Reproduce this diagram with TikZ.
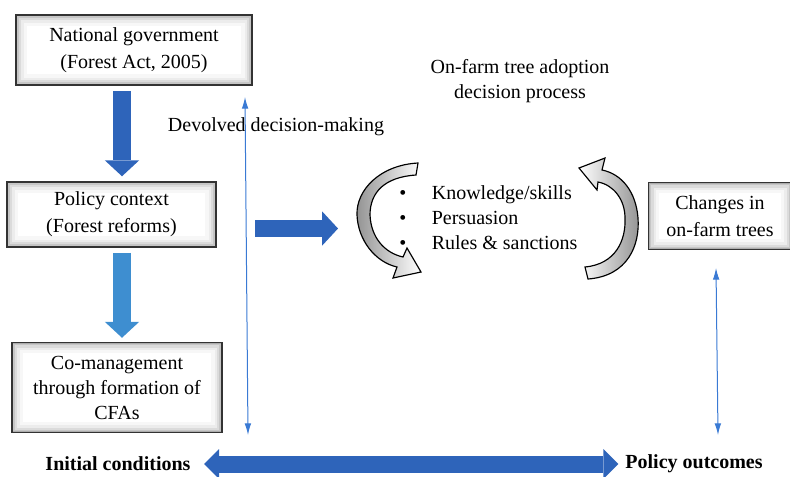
\documentclass[tikz,border=0pt]{standalone}
\usepackage{fontspec}
\setmainfont{Liberation Serif}
\usetikzlibrary{arrows.meta}

\definecolor{deepblue}{RGB}{46,100,186}
\definecolor{paleblue}{RGB}{62,142,208}
\definecolor{lineblue}{RGB}{58,122,212}

\begin{document}
\begin{tikzpicture}[x=0.6pt,y=-0.6pt,
  box/.style={draw=black!80,line width=0.9pt,fill=white,align=center,inner sep=0pt,
    font=\fontsize{12}{16}\selectfont,
    path picture={
      \draw[gray!6,line width=13pt] (path picture bounding box.south west) rectangle (path picture bounding box.north east);
      \draw[gray!15,line width=9pt] (path picture bounding box.south west) rectangle (path picture bounding box.north east);
      \draw[gray!28,line width=6pt] (path picture bounding box.south west) rectangle (path picture bounding box.north east);
      \draw[gray!45,line width=3.5pt] (path picture bounding box.south west) rectangle (path picture bounding box.north east);
      \draw[gray!65,line width=1.6pt] (path picture bounding box.south west) rectangle (path picture bounding box.north east);}},
  fat/.style={line width=11pt,-{Triangle[width=20.5pt,length=9.5pt,line width=0pt]}},
  both/.style={line width=10.2pt,deepblue,
    {Triangle[width=18pt,length=9pt,line width=0pt]}-{Triangle[width=18pt,length=9pt,line width=0pt]}},
  thin/.style={line width=0.6pt,lineblue,{Latex[length=7pt,width=4pt]}-{Latex[length=7pt,width=4pt]}},
  curl/.style={draw=black,line width=0.7pt},
  txt/.style={font=\fontsize{12}{15}\selectfont,align=center,inner sep=0pt}]

\useasboundingbox (0,0) rectangle (790,476);

\node (gov) at (134,50) [box,minimum width=141.6pt,minimum height=42pt] {National government\\(Forest Act, 2005)};
\node (policy) at (111.5,214.5) [box,minimum width=125.4pt,minimum height=39pt] {Policy context\\(Forest reforms)};
\node (co) at (117,387.5) [box,minimum width=126pt,minimum height=54pt,font=\fontsize{12}{15}\selectfont] {Co-management\\through formation of\\CFAs};
\node (changes) at (720,216) [box,minimum width=85.8pt,minimum height=40.2pt] {Changes in\\on-farm trees};

\node (title) at (520,81) [txt] {On-farm tree adoption\\decision process};
\node (devolve) at (276,127) [txt] {Devolved decision-making};
\node (ways) at (399,218) [txt,anchor=west,align=left]
  {\makebox[19.5pt][l]{\large\textbullet}Knowledge/skills\\
   \makebox[19.5pt][l]{\large\textbullet}Persuasion\\
   \makebox[19.5pt][l]{\large\textbullet}Rules \& sanctions};

\node (init) at (118,464) [txt,font=\fontsize{12}{15}\selectfont\bfseries] {Initial conditions};
\node (outc) at (694,464) [txt,font=\fontsize{12}{15}\selectfont\bfseries] {Policy outcomes};

\coordinate (stem) at (122,0);
\draw[fat,deepblue,shorten <=3pt,shorten >=3pt] (gov.south -| stem) -- (policy.north -| stem);
\draw[fat,paleblue,shorten <=3pt,shorten >=2.4pt] (policy.south -| stem) -- (co.north -| stem);

\coordinate (feed) at (255,228.5);
\coordinate (cycle) at (338,228.5);
\draw[fat,deepblue,line width=10.2pt] (feed) -- (cycle);

\draw[both,shorten <=8pt,shorten >=4pt] (init.east) -- (outc.west);

\coordinate (dtop) at (245,97);
\coordinate (dbot) at (248,435);
\draw[thin] (dtop) -- (dbot);
\coordinate (otop) at (716,268);
\coordinate (obot) at (718,435);
\draw[thin] (otop) -- (obot);

% the two curled arrows round the list
\path[curl,left color=gray!85,right color=white]
  (418,163) .. controls (380,165) and (356,190) .. (357,215)
  .. controls (358,240) and (375,262) .. (397,267)
  -- (393,278) -- (421,272) -- (407,248) -- (403,257)
  .. controls (385,253) and (371,238) .. (370,215)
  .. controls (370,192) and (385,177) .. (416,175) -- cycle;
\path[curl,right color=gray!85,left color=white]
  (588,279) .. controls (628,276) and (640,245) .. (638,218)
  .. controls (636,192) and (622,174) .. (602,170)
  -- (605,158) -- (579,168) -- (597,190) -- (598,182)
  .. controls (614,185) and (625,200) .. (625,218)
  .. controls (626,240) and (616,264) .. (585,267) -- cycle;

\end{tikzpicture}
\end{document}
